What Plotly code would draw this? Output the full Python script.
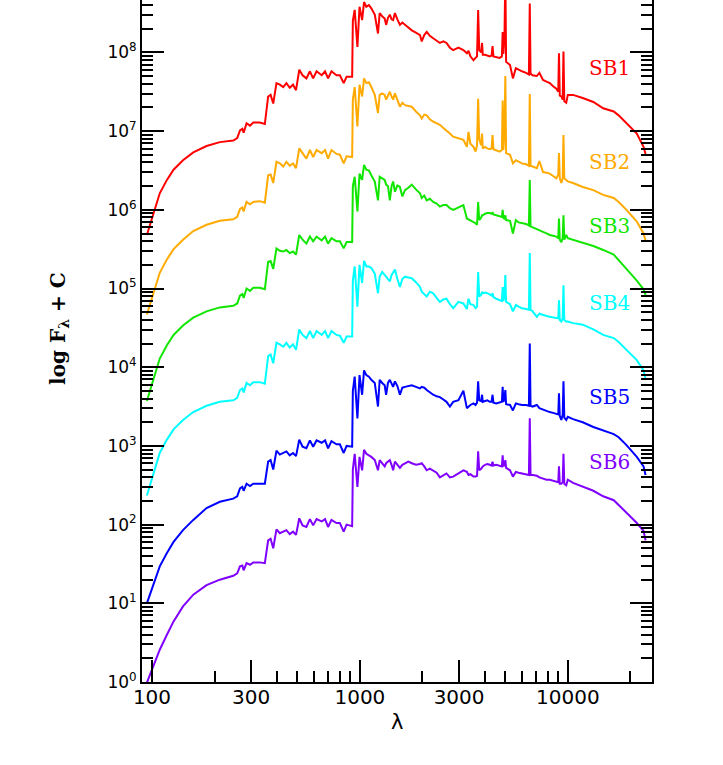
import plotly.graph_objects as go

# wavelength grid (Angstrom) shared by the six templates
WAVE = [
    94.5, 101.5, 109, 118, 127, 141, 158, 183, 212, 246,
    257, 265, 272, 276, 285, 296, 307, 330, 349, 362,
    372, 383, 397, 412, 428, 443, 460, 477, 493, 511,
    530, 553, 575, 596, 619, 655, 680, 703, 730, 772,
    801, 836, 863, 900,
    918, 925, 944, 973, 996, 1025, 1047, 1074, 1105, 1135,
    1179, 1222, 1245, 1280, 1316, 1337, 1365, 1393, 1420, 1445,
    1474, 1515, 1558, 1600, 1648, 1710, 1776, 1860, 1946, 1983,
    2040, 2096, 2170, 2252, 2340, 2425, 2520, 2610, 2710, 2810,
    2980, 3146, 3270, 3330, 3400, 3519, 3600, 3660, 3705, 3750,
    3830, 3869, 3900, 4000, 4100, 4216, 4300, 4345, 4390, 4527,
    4700, 4820, 4861, 4900, 4960, 5007, 5050, 5274, 5445, 5626,
    5800, 6018, 6300, 6500, 6563, 6620, 6770, 7100, 7300, 7600,
    7900, 8185, 8500, 8810, 9000, 9069, 9150, 9310, 9450, 9532,
    9620, 9830, 10000, 10600, 11800, 13270, 14800, 16630, 17560, 19160,
    21470, 23140, 23660,
]

# log10 of flux + offset
SB1 = [
    5.68, 5.95, 6.21, 6.38, 6.51, 6.63, 6.73, 6.81, 6.86, 6.88,
    6.91, 7.01, 7.03, 6.98, 7.10, 7.07, 7.11, 7.11, 7.09, 7.44,
    7.46, 7.35, 7.61, 7.59, 7.56, 7.61, 7.55, 7.59, 7.52, 7.78,
    7.71, 7.67, 7.76, 7.67, 7.76, 7.71, 7.76, 7.67, 7.76, 7.71,
    7.71, 7.61, 7.69, 7.69,
    7.69, 8.40, 8.54, 8.07, 8.58, 8.41, 8.64, 8.58, 8.60, 8.56,
    8.48, 8.24, 8.50, 8.46, 8.43, 8.35, 8.44, 8.48, 8.42, 8.41,
    8.50, 8.42, 8.35, 8.38, 8.35, 8.31, 8.28, 8.25, 8.22, 8.14,
    8.22, 8.26, 8.21, 8.18, 8.15, 8.12, 8.14, 8.12, 8.06, 8.03,
    8.06, 8.03, 7.99, 8.02, 7.95, 7.90, 7.93, 7.95, 8.54, 8.03,
    8.00, 8.12, 7.97, 7.97, 7.96, 7.95, 7.96, 8.08, 7.95, 7.94,
    7.93, 7.95, 8.26, 7.98, 8.20, 9.00, 7.88, 7.84, 7.67, 7.80,
    7.78, 7.76, 7.74, 7.72, 8.62, 7.73, 7.71, 7.70, 7.74, 7.65,
    7.63, 7.61, 7.57, 7.54, 7.50, 7.99, 7.45, 7.44, 7.40, 8.01,
    7.38, 7.36, 7.46, 7.46, 7.42, 7.37, 7.29, 7.25, 7.20, 7.10,
    6.97, 6.80, 6.71,
]

SB2 = [
    4.67, 4.94, 5.20, 5.37, 5.50, 5.62, 5.73, 5.81, 5.86, 5.88,
    5.91, 6.01, 6.03, 5.98, 6.10, 6.07, 6.10, 6.11, 6.09, 6.44,
    6.45, 6.34, 6.61, 6.59, 6.55, 6.61, 6.56, 6.59, 6.53, 6.78,
    6.72, 6.65, 6.76, 6.67, 6.76, 6.72, 6.76, 6.65, 6.76, 6.71,
    6.70, 6.59, 6.68, 6.67,
    6.67, 7.40, 7.56, 7.06, 7.59, 7.44, 7.67, 7.61, 7.62, 7.56,
    7.46, 7.23, 7.46, 7.48, 7.46, 7.40, 7.45, 7.50, 7.44, 7.40,
    7.48, 7.40, 7.31, 7.36, 7.33, 7.32, 7.31, 7.25, 7.20, 7.16,
    7.21, 7.20, 7.15, 7.12, 7.10, 7.08, 7.04, 7.01, 6.97, 6.93,
    6.91, 6.89, 6.80, 6.99, 6.84, 6.80, 6.74, 6.82, 7.41, 6.90,
    6.82, 6.97, 6.78, 6.80, 6.78, 6.77, 6.78, 6.95, 6.77, 6.76,
    6.74, 6.76, 7.39, 6.76, 7.00, 7.70, 6.72, 6.70, 6.59, 6.63,
    6.61, 6.59, 6.58, 6.56, 7.47, 6.56, 6.55, 6.53, 6.62, 6.48,
    6.47, 6.46, 6.43, 6.40, 6.45, 6.72, 6.40, 6.34, 6.40, 6.95,
    6.40, 6.38, 6.36, 6.34, 6.29, 6.25, 6.19, 6.15, 6.10, 6.00,
    5.85, 5.70, 5.61,
]

SB3 = [
    3.57, 3.85, 4.11, 4.28, 4.41, 4.53, 4.63, 4.71, 4.76, 4.78,
    4.81, 4.91, 4.93, 4.88, 5.00, 4.97, 5.01, 5.01, 4.99, 5.34,
    5.35, 5.25, 5.51, 5.48, 5.47, 5.49, 5.45, 5.47, 5.43, 5.68,
    5.62, 5.57, 5.66, 5.60, 5.66, 5.61, 5.66, 5.57, 5.64, 5.60,
    5.60, 5.51, 5.59, 5.59,
    5.59, 6.30, 6.42, 5.98, 6.46, 6.38, 6.57, 6.51, 6.50, 6.44,
    6.36, 6.12, 6.42, 6.40, 6.38, 6.32, 6.30, 6.12, 6.30, 6.36,
    6.23, 6.31, 6.29, 6.17, 6.25, 6.28, 6.32, 6.26, 6.21, 6.15,
    6.18, 6.12, 6.14, 6.10, 6.08, 6.04, 6.06, 6.06, 6.02, 6.00,
    6.03, 6.06, 5.89, 5.88, 5.86, 5.85, 5.83, 5.81, 6.10, 5.87,
    5.90, 5.93, 5.93, 5.95, 5.96, 5.96, 5.95, 5.97, 5.94, 5.93,
    5.92, 5.91, 6.00, 5.90, 5.88, 5.93, 5.87, 5.86, 5.70, 5.87,
    5.84, 5.83, 5.82, 5.80, 6.38, 5.79, 5.78, 5.75, 5.74, 5.72,
    5.70, 5.68, 5.67, 5.66, 5.64, 5.89, 5.62, 5.59, 5.64, 5.93,
    5.62, 5.68, 5.64, 5.62, 5.58, 5.54, 5.49, 5.43, 5.36, 5.25,
    5.10, 4.99, 4.92,
]

SB4 = [
    2.37, 2.65, 2.91, 3.08, 3.21, 3.33, 3.43, 3.51, 3.56, 3.58,
    3.61, 3.71, 3.73, 3.68, 3.80, 3.77, 3.81, 3.81, 3.79, 4.14,
    4.16, 4.05, 4.31, 4.29, 4.26, 4.31, 4.25, 4.29, 4.22, 4.48,
    4.41, 4.37, 4.46, 4.37, 4.46, 4.41, 4.46, 4.37, 4.46, 4.41,
    4.40, 4.31, 4.39, 4.39,
    4.39, 5.10, 5.28, 4.77, 5.30, 5.07, 5.35, 5.28, 5.28, 5.26,
    5.19, 4.94, 5.15, 5.21, 5.18, 5.15, 5.12, 5.09, 5.17, 5.21,
    5.24, 5.12, 5.02, 5.12, 5.15, 5.14, 5.13, 5.08, 5.02, 4.96,
    4.93, 4.90, 4.96, 4.94, 4.88, 4.83, 4.86, 4.87, 4.80, 4.75,
    4.83, 4.81, 4.74, 4.87, 4.80, 4.79, 4.75, 4.77, 5.21, 4.90,
    4.92, 4.96, 4.94, 4.95, 4.94, 4.92, 4.91, 4.94, 4.89, 4.87,
    4.85, 4.84, 5.02, 4.84, 4.90, 5.17, 4.83, 4.80, 4.71, 4.79,
    4.77, 4.75, 4.74, 4.73, 5.45, 4.73, 4.71, 4.64, 4.68, 4.66,
    4.65, 4.64, 4.63, 4.62, 4.62, 4.85, 4.60, 4.58, 4.62, 5.04,
    4.60, 4.58, 4.58, 4.56, 4.54, 4.48, 4.41, 4.37, 4.32, 4.22,
    4.09, 3.96, 3.85,
]

SB5 = [
    1.00, 1.25, 1.47, 1.64, 1.78, 1.93, 2.06, 2.21, 2.29, 2.33,
    2.36, 2.46, 2.48, 2.43, 2.52, 2.49, 2.52, 2.52, 2.52, 2.80,
    2.82, 2.70, 2.94, 2.89, 2.91, 2.93, 2.88, 2.91, 2.87, 3.08,
    2.99, 2.97, 3.07, 2.99, 3.07, 3.04, 3.07, 2.97, 3.06, 3.02,
    3.02, 2.91, 3.00, 2.99,
    2.99, 3.70, 3.88, 3.35, 3.90, 3.65, 3.96, 3.90, 3.88, 3.84,
    3.80, 3.50, 3.84, 3.80, 3.77, 3.65, 3.80, 3.84, 3.79, 3.75,
    3.82, 3.76, 3.65, 3.74, 3.75, 3.76, 3.77, 3.75, 3.73, 3.75,
    3.74, 3.71, 3.68, 3.65, 3.63, 3.62, 3.59, 3.56, 3.50, 3.56,
    3.58, 3.70, 3.48, 3.50, 3.52, 3.54, 3.52, 3.55, 3.82, 3.58,
    3.57, 3.65, 3.56, 3.57, 3.58, 3.56, 3.56, 3.65, 3.55, 3.54,
    3.55, 3.56, 3.75, 3.56, 3.60, 3.71, 3.53, 3.52, 3.45, 3.54,
    3.53, 3.52, 3.52, 3.51, 4.30, 3.51, 3.50, 3.52, 3.48, 3.46,
    3.44, 3.43, 3.42, 3.41, 3.40, 3.67, 3.38, 3.33, 3.40, 3.82,
    3.36, 3.33, 3.37, 3.34, 3.30, 3.24, 3.20, 3.15, 3.11, 3.01,
    2.86, 2.74, 2.63,
]

SB6 = [
    -0.01, 0.19, 0.41, 0.60, 0.77, 0.96, 1.11, 1.23, 1.30, 1.35,
    1.38, 1.47, 1.48, 1.42, 1.51, 1.49, 1.52, 1.52, 1.51, 1.80,
    1.82, 1.70, 1.94, 1.89, 1.91, 1.93, 1.88, 1.91, 1.87, 2.08,
    1.99, 1.97, 2.07, 1.99, 2.07, 2.04, 2.07, 1.97, 2.06, 2.02,
    2.02, 1.91, 2.00, 1.98,
    1.98, 2.70, 2.90, 2.48, 2.86, 2.69, 2.95, 2.90, 2.88, 2.86,
    2.82, 2.69, 2.82, 2.78, 2.74, 2.78, 2.80, 2.82, 2.76, 2.69,
    2.80, 2.76, 2.72, 2.76, 2.78, 2.80, 2.78, 2.76, 2.77, 2.78,
    2.74, 2.69, 2.71, 2.69, 2.66, 2.60, 2.63, 2.65, 2.60, 2.61,
    2.65, 2.69, 2.67, 2.63, 2.64, 2.61, 2.61, 2.62, 2.93, 2.69,
    2.71, 2.73, 2.74, 2.76, 2.77, 2.76, 2.75, 2.80, 2.75, 2.76,
    2.75, 2.74, 2.88, 2.74, 2.76, 2.82, 2.72, 2.69, 2.61, 2.67,
    2.66, 2.65, 2.64, 2.63, 3.35, 2.63, 2.63, 2.62, 2.60, 2.58,
    2.57, 2.57, 2.56, 2.55, 2.54, 2.74, 2.52, 2.52, 2.54, 2.90,
    2.52, 2.50, 2.57, 2.53, 2.48, 2.43, 2.36, 2.31, 2.25, 2.15,
    2.02, 1.92, 1.80,
]

NAMES = ["SB1", "SB2", "SB3", "SB4", "SB5", "SB6"]
SERIES = [SB1, SB2, SB3, SB4, SB5, SB6]
COLORS = ["#ff0000", "#ffaa00", "#11e600", "#00ffff", "#0000ff", "#8000ff"]

# label placement (log lambda, log flux)
LABEL_X = 4.20
LABEL_Y = [7.80, 6.61, 5.79, 4.82, 3.62, 2.80]

X_MAJOR = [100, 300, 1000, 3000, 10000]
X_MINOR = [200, 400, 500, 600, 700, 800, 900,
           2000, 4000, 5000, 6000, 7000, 8000, 9000, 20000]
Y_MAJOR = [10 ** n for n in range(9)]
Y_MINOR = [m * 10 ** n for n in range(9) for m in range(2, 10)]

fig = go.Figure()
for name, logf, color in zip(NAMES, SERIES, COLORS):
    fig.add_trace(go.Scatter(
        x=WAVE, y=[10 ** v for v in logf], mode="lines", name=name,
        line=dict(color=color, width=2), showlegend=False,
    ))

for name, y, color in zip(NAMES, LABEL_Y, COLORS):
    fig.add_annotation(x=LABEL_X, y=y, text=name, showarrow=False,
                       font=dict(family="DejaVu Serif", size=20, color=color))

# axis titles
fig.add_annotation(xref="paper", yref="paper", x=-0.163, y=0.519,
                   xanchor="center", yanchor="middle",
                   text="<b>log F<sub>λ</sub> + C</b>", textangle=-90,
                   showarrow=False,
                   font=dict(family="DejaVu Serif", size=20, color="black"))
fig.add_annotation(xref="paper", yref="paper", x=0.5, y=-0.0587,
                   xanchor="center", yanchor="middle",
                   text="λ", showarrow=False,
                   font=dict(family="DejaVu Sans", size=21, color="black"))

axis_common = dict(
    type="log", showgrid=False, zeroline=False, showline=True,
    linecolor="black", linewidth=2, ticks="inside", ticklen=22,
    tickwidth=2, tickcolor="black",
)

fig.update_xaxes(
    **axis_common, range=[1.952, 4.405], tickvals=X_MAJOR,
    ticktext=[str(v) for v in X_MAJOR], ticklabelstandoff=-4,
    tickfont=dict(family="DejaVu Sans", size=20, color="black"),
    minor=dict(tickvals=X_MINOR, ticks="inside", ticklen=11,
               tickwidth=2, tickcolor="black", showgrid=False),
)
fig.update_yaxes(
    **axis_common, range=[0, 8.666], mirror="ticks", tickvals=Y_MAJOR,
    ticktext=["10<sup>%d</sup>" % n for n in range(9)],
    tickfont=dict(family="DejaVu Sans", size=17, color="black"),
    minor=dict(tickvals=Y_MINOR, ticks="inside", ticklen=11,
               tickwidth=2, tickcolor="black", showgrid=False),
)

fig.update_layout(
    width=723, height=765,
    margin=dict(l=142, r=71, t=0, b=83),
    paper_bgcolor="white", plot_bgcolor="white",
)

# drop the browser's default 8px body margin so the figure sits at 0,0
fig.write_html("out.html", config={"displayModeBar": False},
               post_script="document.body.style.margin='0';")
